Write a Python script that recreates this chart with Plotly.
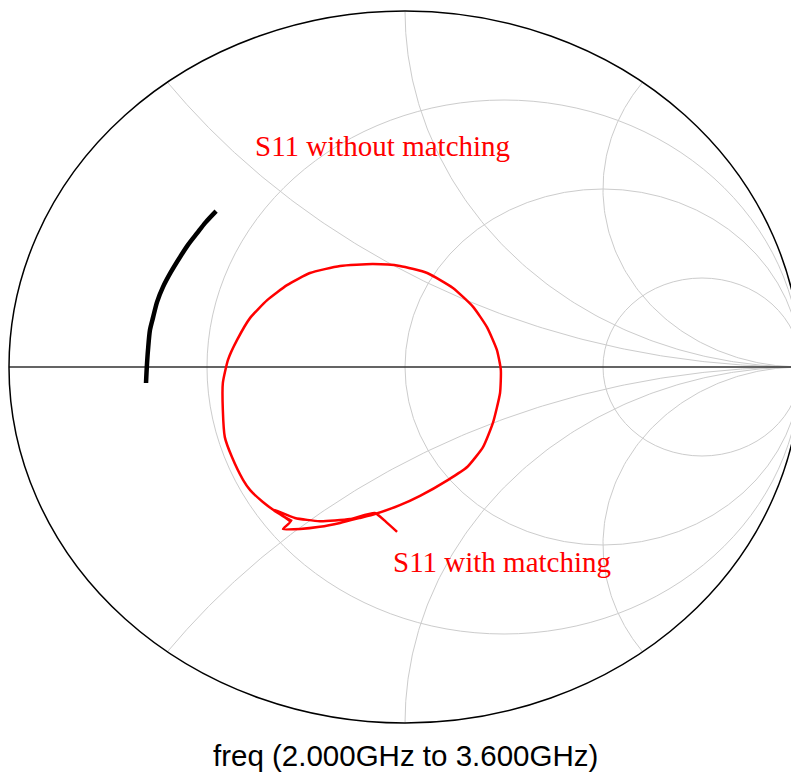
import numpy as np
import plotly.graph_objects as go

s11_nomatch_re = [-0.654, -0.652, -0.649, -0.644, -0.636, -0.626, -0.611, -0.591,
                  -0.568, -0.548, -0.525, -0.503, -0.477]
s11_nomatch_im = [-0.045, 0.000, 0.048, 0.104, 0.140, 0.183, 0.225, 0.267,
                  0.309, 0.343, 0.376, 0.407, 0.438]

s11_match_re = [-0.020, -0.048, -0.076, -0.139, -0.215, -0.278, -0.336, -0.290,
                -0.308, -0.265, -0.215, -0.164, -0.114, -0.076, -0.013, 0.038,
                0.109, 0.157, 0.197, 0.222, 0.240, 0.242, 0.232, 0.207, 0.172,
                0.121, 0.056, -0.013, -0.081, -0.164, -0.240, -0.298, -0.348,
                -0.391, -0.424, -0.447, -0.460, -0.460, -0.455, -0.437, -0.409,
                -0.391, -0.359, -0.321, -0.285]
s11_match_im = [-0.463, -0.435, -0.410, -0.427, -0.433, -0.424, -0.399, -0.435,
                -0.455, -0.455, -0.449, -0.438, -0.424, -0.413, -0.388, -0.362,
                -0.317, -0.281, -0.225, -0.157, -0.073, -0.008, 0.048, 0.112, 0.169,
                0.222, 0.264, 0.284, 0.289, 0.284, 0.264, 0.230, 0.188,
                0.138, 0.076, 0.020, -0.045, -0.121, -0.197, -0.253, -0.317,
                -0.346, -0.379, -0.410, -0.433]

resistance_grid = [1 / 3, 1.0, 3.0]
reactance_grid = [0.5, 1.0, 2.0, -0.5, -1.0, -2.0]

label_nomatch = "S11 without matching"
label_match = "S11 with matching"
freq_label = "freq (2.000GHz to 3.600GHz)"

GRID = "#cccccc"

fig = go.Figure()

# reactance arcs (grid)
r_sweep = np.concatenate(([0.0], np.logspace(-3, 4, 500)))
for xv in reactance_grid:
    z = r_sweep + 1j * xv
    g = (z - 1) / (z + 1)
    fig.add_trace(go.Scatter(x=g.real, y=g.imag, mode="lines",
                             line=dict(color=GRID, width=1),
                             hoverinfo="skip", showlegend=False))

shapes = []
# resistance circles (grid)
for rv in resistance_grid:
    c = rv / (1 + rv)
    rad = 1 / (1 + rv)
    shapes.append(dict(type="circle", xref="x", yref="y", layer="below",
                       x0=c - rad, x1=c + rad, y0=-rad, y1=rad,
                       line=dict(color=GRID, width=1)))
# outer unit circle
shapes.append(dict(type="circle", xref="x", yref="y", layer="above",
                   x0=-1, x1=1, y0=-1, y1=1,
                   line=dict(color="black", width=1.5)))

# real axis
fig.add_trace(go.Scatter(x=[-1, 1], y=[0, 0], mode="lines",
                         line=dict(color="#303030", width=1.3),
                         hoverinfo="skip", showlegend=False))

fig.add_trace(go.Scatter(x=s11_nomatch_re, y=s11_nomatch_im, mode="lines",
                         line=dict(color="black", width=4.5, shape="spline",
                                   smoothing=0.8),
                         name=label_nomatch, showlegend=False))
fig.add_trace(go.Scatter(x=s11_match_re, y=s11_match_im, mode="lines",
                         line=dict(color="#ff0000", width=2.5, shape="spline",
                                   smoothing=0.5),
                         name=label_match, showlegend=False))

annotations = [
    dict(x=-0.058, y=0.622, xref="x", yref="y", text=label_nomatch, showarrow=False,
         font=dict(family="Liberation Serif", size=29, color="#ff0000")),
    dict(x=0.246, y=-0.549, xref="x", yref="y", text=label_match, showarrow=False,
         font=dict(family="Liberation Serif", size=29, color="#ff0000")),
    dict(x=0.0, y=-1.090, xref="x", yref="y", text=freq_label, showarrow=False,
         font=dict(family="Liberation Sans", size=29.5, color="black")),
]

fig.update_layout(
    width=791, height=776,
    margin=dict(l=0, r=0, t=0, b=0),
    paper_bgcolor="white", plot_bgcolor="white",
    xaxis=dict(range=[-405 / 396, 386 / 396], visible=False, showgrid=False,
               zeroline=False, fixedrange=True),
    yaxis=dict(range=[-409 / 356, 367 / 356], visible=False, showgrid=False,
               zeroline=False, fixedrange=True),
    shapes=shapes,
    annotations=annotations,
    showlegend=False,
)

fig.write_html("out.html", config={"displayModeBar": False},
               post_script="document.body.style.margin='0';")
